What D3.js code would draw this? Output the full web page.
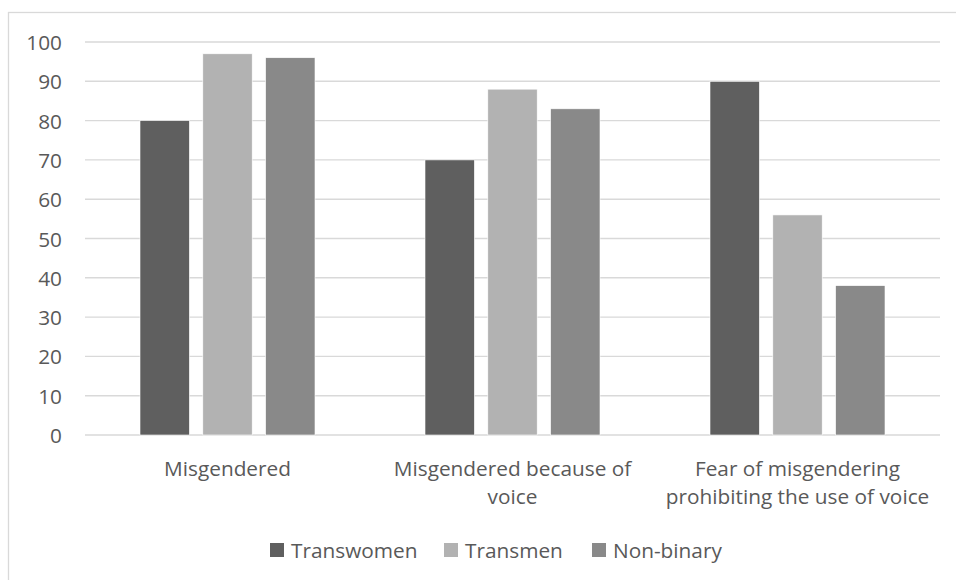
<!DOCTYPE html>
<html>
<head>
<meta charset="utf-8">
<script src="https://cdn.jsdelivr.net/npm/d3@7"></script>
<style>
  html, body { margin: 0; padding: 0; background: #fff; }
  svg { display: block; }
  text { font-family: "Open Sans", sans-serif; fill: #595959; }
</style>
</head>
<body>
<svg id="chart" width="956" height="580"></svg>
<script>
const categories = [
  ["Misgendered"],
  ["Misgendered because of", "voice"],
  ["Fear of misgendering", "prohibiting the use of voice"]
];
const seriesNames = ["Transwomen", "Transmen", "Non-binary"];
const seriesColors = ["#5f5f5f", "#b2b2b2", "#898989"];
const transwomen = [80, 70, 90];
const transmen = [97, 88, 56];
const nonBinary = [96, 83, 38];
const yTicks = [0, 10, 20, 30, 40, 50, 60, 70, 80, 90, 100];

const seriesValues = [transwomen, transmen, nonBinary];
const catKeys = categories.map(c => c.join(" "));

const svg = d3.select("#chart");
const plot = { left: 85, right: 940, top: 42, bottom: 435 };
const fontSize = "20.8px";

// chart frame
svg.append("rect")
  .attr("x", 8.5).attr("y", 12.5)
  .attr("width", 960).attr("height", 600)
  .attr("fill", "none").attr("stroke", "#d9d9d9").attr("stroke-width", 1.3);

const x0 = d3.scaleBand().domain(catKeys).range([plot.left, plot.right]).padding(0);
const groupPad = 55;
const x1 = d3.scaleBand().domain(seriesNames)
  .range([groupPad, x0.bandwidth() - groupPad])
  .paddingInner(0.214).paddingOuter(0);
const y = d3.scaleLinear().domain([0, 100]).range([plot.bottom, plot.top]);

// gridlines
svg.append("g").selectAll("line").data(yTicks).join("line")
  .attr("x1", plot.left).attr("x2", plot.right)
  .attr("y1", d => y(d)).attr("y2", d => y(d))
  .attr("stroke", "#d9d9d9").attr("stroke-width", 1.4);

// y axis labels
const yAxis = d3.axisLeft(y).tickValues(yTicks).tickSize(0).tickPadding(0);
const yg = svg.append("g").attr("transform", "translate(62,0)").call(yAxis);
yg.select(".domain").remove();
yg.selectAll("text")
  .attr("x", 0).attr("dy", "0.36em")
  .style("font-family", "'Open Sans', sans-serif")
  .style("font-size", fontSize).attr("fill", "#595959");

// bars
const groups = svg.append("g").selectAll("g").data(catKeys).join("g")
  .attr("transform", d => `translate(${x0(d)},0)`);
groups.selectAll("rect")
  .data((d, i) => seriesNames.map((s, j) => ({ s, j, v: seriesValues[j][i] })))
  .join("rect")
  .attr("x", d => x1(d.s))
  .attr("width", x1.bandwidth())
  .attr("y", d => y(d.v))
  .attr("height", d => y(0) - y(d.v))
  .attr("fill", d => seriesColors[d.j])
  .attr("stroke", "#ffffff").attr("stroke-width", 0.6);

// category labels
const labels = svg.append("g").selectAll("text").data(categories).join("text")
  .attr("text-anchor", "middle")
  .style("font-size", fontSize)
  .attr("transform", (d, i) => `translate(${x0(catKeys[i]) + x0.bandwidth() / 2},476)`);
labels.selectAll("tspan").data(d => d).join("tspan")
  .attr("x", 0).attr("y", (d, i) => i * 28)
  .text(d => d);

// legend
const legendX = [270, 444, 592];
const legend = svg.append("g").selectAll("g").data(seriesNames).join("g")
  .attr("transform", (d, i) => `translate(${legendX[i]},543)`);
legend.append("rect").attr("width", 14).attr("height", 14)
  .attr("fill", (d, i) => seriesColors[i]);
legend.append("text").attr("x", 21).attr("y", 14.5)
  .style("font-size", fontSize).text(d => d);
</script>
</body>
</html>
